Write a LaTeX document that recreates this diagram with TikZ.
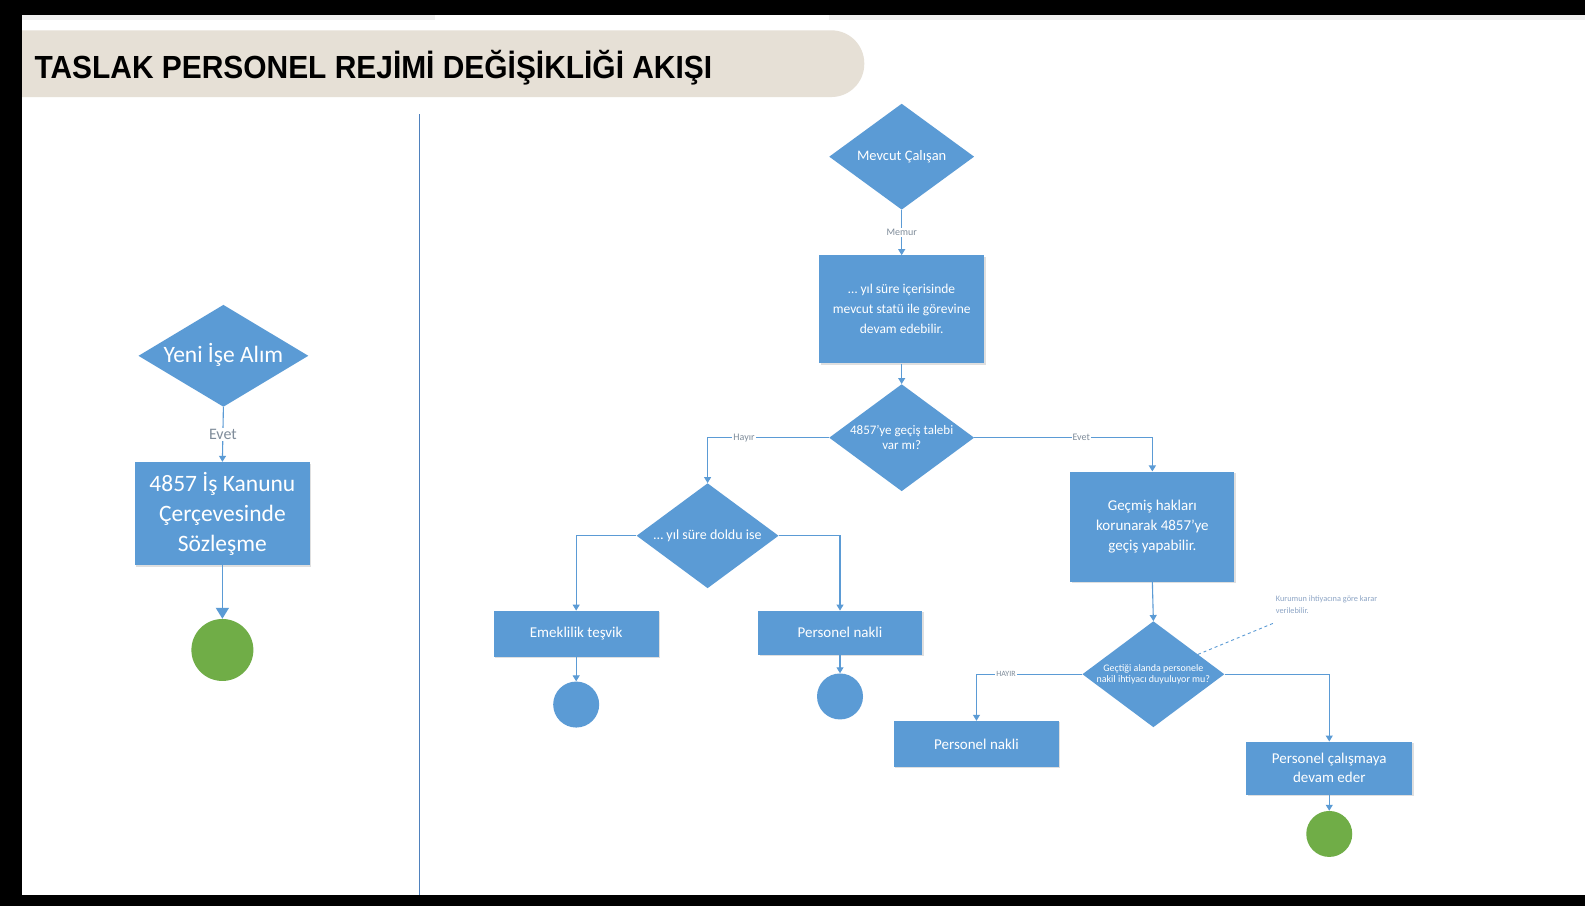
\documentclass[tikz,border=0pt]{standalone}
\usepackage{fontspec}
\setmainfont{Carlito}
\newfontfamily\titlefont{Liberation Sans}
\usetikzlibrary{shapes.geometric,arrows.meta,shadows}
\definecolor{boxblue}{HTML}{5B9BD5}
\definecolor{lineblue}{HTML}{5B9BD5}
\definecolor{divblue}{HTML}{4F81BD}
\definecolor{termgreen}{HTML}{70AD47}
\definecolor{banner}{HTML}{E6E0D6}
\definecolor{lblgray}{HTML}{7F8C9A}
\definecolor{notecol}{HTML}{8EA6C6}
\newcommand\dtxt[1]{\makebox[0pt]{\raisebox{-0.3em}[0pt][0pt]{\begin{tabular}{@{}c@{}}#1\end{tabular}}}}
\tikzset{
  proc/.style={rectangle, fill=boxblue, text=white, align=center, inner sep=2pt,
    drop shadow={shadow xshift=1.5pt, shadow yshift=-1.5pt, opacity=0.25}},
  dec/.style={diamond, fill=boxblue, text=white, inner sep=0pt, aspect=1.4},
  term/.style={circle, inner sep=0pt},
  conn/.style={draw=lineblue, line width=1.1pt, -{Triangle[width=7pt,length=6pt]}},
  bigconn/.style={draw=lineblue, line width=1.6pt, -{Triangle[width=13pt,length=11pt]}},
  lbl/.style={fill=white, text=lblgray, inner sep=1pt, font=\fontsize{10}{11}\selectfont},
}
\begin{document}
\begin{tikzpicture}[x=1.011pt, y=-1.011pt]
\useasboundingbox (0,0) rectangle (1568,896);
% frame
\fill[black] (0,0) rectangle (1568,896);
\fill[white] (22,15) rectangle (1568,885);
\fill[gray!12] (22,15) rectangle (430,20);
\fill[gray!12] (820,15) rectangle (1568,20);
% banner
\fill[banner, rounded corners=33pt] (-60,30) rectangle (855,96);
\fill[black] (0,0) rectangle (22,896);
\node[anchor=west, inner sep=0pt, font=\titlefont\bfseries\fontsize{32}{33}\selectfont] (title) at (34,67) {\scalebox{0.935}[1]{TASLAK PERSONEL REJİMİ DEĞİŞİKLİĞİ AKIŞI}};
% divider
\draw[divblue, line width=1.6pt] (415,113) -- (415,885);

% left column
\node[dec, minimum width=170pt, minimum height=102pt, font=\fontsize{23.5}{26}\selectfont] (d0) at (221,352) {\dtxt{Yeni İşe Alım}};
\node[proc, minimum width=175pt, minimum height=103pt, font=\fontsize{23.5}{30}\selectfont] (r0) at (220,508) {4857 İş Kanunu\\Çerçevesinde\\Sözleşme};
\node[term, fill=termgreen, minimum size=62pt] (c0) at (220,643) {};
\draw[conn] (d0.south) -- node[lbl, font=\fontsize{16}{17}\selectfont]{Evet} (r0.north);
\draw[bigconn] (r0.south) -- (c0.north);

% right part
\node[dec, minimum width=145pt, minimum height=106pt, font=\fontsize{14.5}{16}\selectfont] (d1) at (892,155) {\dtxt{Mevcut Çalışan}};
\node[proc, minimum width=165pt, minimum height=108pt, font=\fontsize{13.5}{20}\selectfont] (r1) at (892,306) {… yıl süre içerisinde\\mevcut statü ile görevine\\devam edebilir.};
\node[dec, minimum width=145pt, minimum height=107pt, font=\fontsize{13}{15}\selectfont] (d2) at (892,433) {\dtxt{4857'ye geçiş talebi\\var mı?}};
\node[dec, minimum width=142pt, minimum height=105pt, font=\fontsize{14}{15}\selectfont] (d3) at (700,530) {\dtxt{… yıl süre doldu ise}};
\node[proc, minimum width=165pt, minimum height=46pt, font=\fontsize{15}{17}\selectfont] (r2) at (570,627) {Emeklilik teşvik};
\node[proc, minimum width=164pt, minimum height=44pt, font=\fontsize{15}{17}\selectfont] (r3) at (831,626) {Personel nakli};
\node[term, fill=boxblue, minimum size=46pt] (c2) at (570,697) {};
\node[term, fill=boxblue, minimum size=46pt] (c3) at (831,689) {};
\node[proc, minimum width=164pt, minimum height=110pt, font=\fontsize{15}{20}\selectfont] (r4) at (1140,521) {Geçmiş hakları\\korunarak 4857'ye\\geçiş yapabilir.};
\node[dec, minimum width=142pt, minimum height=106pt, font=\fontsize{10}{11.5}\selectfont] (d4) at (1141,667) {\dtxt{Geçtiği alanda personele\\nakil ihtiyacı duyuluyor mu?}};
\node[proc, minimum width=165pt, minimum height=46pt, font=\fontsize{15}{17}\selectfont] (r5) at (966,736) {Personel nakli};
\node[proc, minimum width=166pt, minimum height=53pt, font=\fontsize{15}{19}\selectfont] (r6) at (1315,760) {Personel çalışmaya\\devam eder};
\node[term, fill=termgreen, minimum size=46pt] (c6) at (1315,825) {};
\node[anchor=west, align=left, text=notecol, inner sep=0pt, font=\fontsize{8.3}{12}\selectfont] (note) at (1262,598) {Kurumun ihtiyacına göre karar\\verilebilir.};
\coordinate (notept) at (1261,616);

% connectors
\draw[conn] (d1.south) -- node[lbl]{Memur} (r1.north);
\draw[conn] (r1.south) -- (d2.north);
\draw[conn] (d2.west) -| node[lbl, pos=0.35]{Hayır} (d3.north);
\draw[conn] (d2.east) -| node[lbl, pos=0.3]{Evet} (r4.north);
\draw[conn] (d3.west) -| (r2.north);
\draw[conn] (d3.east) -| (r3.north);
\draw[conn] (r2.south) -- (c2.north);
\draw[conn] (r3.south) -- (c3.north);
\draw[conn] (r4.south) -- (d4.north);
\draw[conn] (d4.west) -| node[lbl, pos=0.36, font=\fontsize{8}{9}\selectfont]{HAYIR} (r5.north);
\draw[conn] (d4.east) -| (r6.north);
\draw[conn] (r6.south) -- (c6.north);
\draw[lineblue, line width=0.9pt, dashed] (d4.24) -- (notept);
\end{tikzpicture}
\end{document}
